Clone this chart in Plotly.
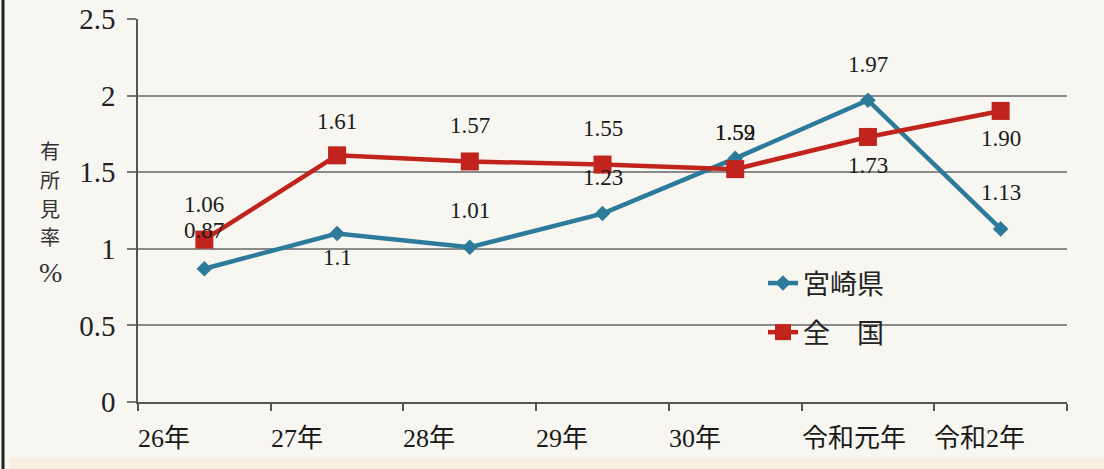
import plotly.graph_objects as go

# ---- data ----
categories = ["26年", "27年", "28年", "29年", "30年", "令和元年", "令和2年"]
miyazaki = [0.87, 1.1, 1.01, 1.23, 1.59, 1.97, 1.13]
miyazaki_text = ["0.87", "1.1", "1.01", "1.23", "1.59", "1.97", "1.13"]
zenkoku = [1.06, 1.61, 1.57, 1.55, 1.52, 1.73, 1.90]
zenkoku_text = ["1.06", "1.61", "1.57", "1.55", "1.52", "1.73", "1.90"]
series_names = ["宮崎県", "全\u3000国"]
y_title_chars = ["有", "所", "見", "率"]
y_unit = "%"

# ---- style ----
BLUE = "#2d7b9b"
RED = "#c0241c"
BG = "#f7f6f1"
SERIF = "Liberation Serif, Noto Sans CJK JP, serif"
CJK = "Noto Sans CJK JP, sans-serif"
miyazaki_shift = [38, -24, 37, 36, 26, 36, 36]
zenkoku_shift = [35, 34, 36, 36, 37, -29, -28]
title_rows_px = [150, 179, 208, 237]

L, R, T, B = 138, 37, 19, 67
W, H = 1104, 469
PW, PH = W - L - R, H - T - B


def px2paper_x(px):
    return (px - L) / PW


def px2paper_y(py):
    return (H - B - py) / PH


fig = go.Figure()
fig.add_trace(go.Scatter(
    x=categories, y=miyazaki, name=series_names[0], mode="lines+markers",
    line=dict(color=BLUE, width=4.5),
    marker=dict(symbol="diamond", size=12, color=BLUE),
    legendgroup="a",
))
fig.add_trace(go.Scatter(
    x=categories, y=zenkoku, name=series_names[1], mode="lines+markers",
    line=dict(color=RED, width=4.5),
    marker=dict(symbol="square", size=18, color=RED),
    legendgroup="b",
))

annotations = []
for i, (v, t, s) in enumerate(zip(miyazaki, miyazaki_text, miyazaki_shift)):
    annotations.append(dict(x=categories[i], y=v, xref="x", yref="y", text=t,
                            showarrow=False, yshift=s,
                            font=dict(family=SERIF, size=23, color="#1a1a1a")))
for i, (v, t, s) in enumerate(zip(zenkoku, zenkoku_text, zenkoku_shift)):
    annotations.append(dict(x=categories[i], y=v, xref="x", yref="y", text=t,
                            showarrow=False, yshift=s,
                            font=dict(family=SERIF, size=23, color="#1a1a1a")))

# category labels, left-aligned at the category boundaries
for i, c in enumerate(categories):
    annotations.append(dict(x=i - 0.5, y=0, xref="x", yref="paper", text=c,
                            showarrow=False, xanchor="left", yanchor="middle",
                            yshift=-36, xshift=-2,
                            font=dict(family=SERIF, size=26, color="#1a1a1a")))

# vertical y-axis title
for ch, py in zip(y_title_chars, title_rows_px):
    annotations.append(dict(x=px2paper_x(50), y=px2paper_y(py), xref="paper", yref="paper",
                            text=ch, showarrow=False, xanchor="center", yanchor="middle",
                            font=dict(family=CJK, size=20, color="#333")))
annotations.append(dict(x=px2paper_x(50), y=px2paper_y(272), xref="paper",
                        yref="paper", text=y_unit, showarrow=False,
                        xanchor="center", yanchor="middle",
                        font=dict(family=SERIF, size=28, color="#333")))

shapes = [
    dict(type="line", xref="paper", yref="paper",
         x0=px2paper_x(3), x1=px2paper_x(3), y0=px2paper_y(0), y1=px2paper_y(H),
         line=dict(color="#222", width=3)),
    dict(type="rect", xref="paper", yref="paper",
         x0=px2paper_x(10), x1=px2paper_x(W), y0=px2paper_y(458), y1=px2paper_y(H),
         line=dict(width=0), fillcolor="#f7efe2", layer="below"),
]

fig.update_layout(
    width=W, height=H,
    margin=dict(l=L, r=R, t=T, b=B, autoexpand=False),
    paper_bgcolor=BG, plot_bgcolor=BG,
    showlegend=True,
    legend=dict(x=px2paper_x(763), y=px2paper_y(259), xanchor="left", yanchor="top",
                bgcolor="rgba(0,0,0,0)", font=dict(family=CJK, size=27, color="#222"),
                tracegroupgap=11, traceorder="grouped"),
    annotations=annotations,
    shapes=shapes,
)
fig.update_xaxes(
    type="category", range=[-0.5, len(categories) - 0.5], automargin=False,
    tickson="boundaries", ticks="outside", ticklen=7, tickcolor="#555", tickwidth=1.5,
    showticklabels=False, showgrid=False,
    showline=True, linecolor="#555", linewidth=1.5, zeroline=False,
)
fig.update_yaxes(
    range=[0, 2.5], automargin=False, tickvals=[0, 0.5, 1, 1.5, 2, 2.5],
    ticktext=["0", "0.5", "1", "1.5", "2", "2.5"],
    ticks="outside", ticklen=9, tickcolor="#777", tickwidth=1.5,
    showgrid=True, gridcolor="#8a8a8a", gridwidth=1.5,
    showline=True, linecolor="#555", linewidth=1.5, zeroline=False,
    ticklabelstandoff=6,
    tickfont=dict(family=SERIF, size=29, color="#222"),
)

fig.write_html("out.html")
